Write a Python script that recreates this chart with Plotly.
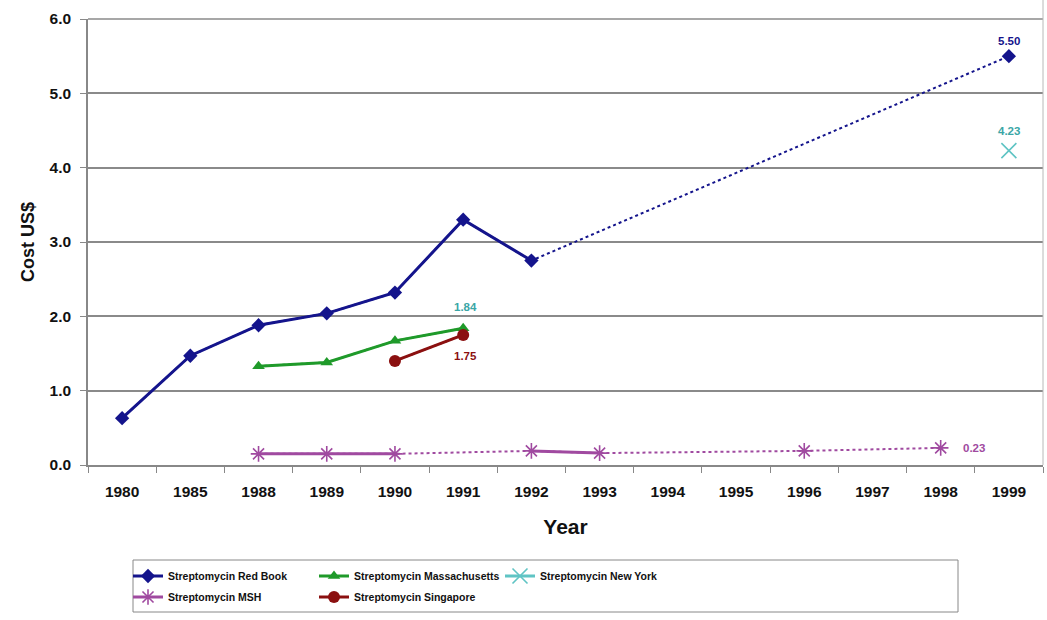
import plotly.graph_objects as go

# Category axis (years)
years = ["1980", "1985", "1988", "1989", "1990", "1991", "1992",
         "1993", "1994", "1995", "1996", "1997", "1998", "1999"]

# Cost per unit (US$); None = no observation for that year
red_book      = [0.63, 1.47, 1.88, 2.04, 2.32, 3.30, 2.75, None, None, None, None, None, None, 5.50]
massachusetts = [None, None, 1.33, 1.38, 1.67, 1.84, None, None, None, None, None, None, None, None]
new_york      = [None, None, None, None, None, None, None, None, None, None, None, None, None, 4.23]
msh           = [None, None, 0.15, 0.15, 0.15, None, 0.19, 0.16, None, None, 0.19, None, 0.23, None]
singapore     = [None, None, None, None, 1.40, 1.75, None, None, None, None, None, None, None, None]

series = [
    # name, values, colour, marker symbol, marker size, legend
    ("Streptomycin Red Book", red_book, "#14148c", "diamond", 11, "legend"),
    ("Streptomycin Massachusetts", massachusetts, "#1f9a2a", "triangle-up", 11, "legend"),
    ("Streptomycin New York", new_york, "#5fc4c4", "x-thin-open", 15, "legend"),
    ("Streptomycin MSH", msh, "#a04aa0", "asterisk-open", 13, "legend2"),
    ("Streptomycin Singapore", singapore, "#8b1010", "circle", 12, "legend2"),
]

FONT = "Liberation Sans, Arial, sans-serif"

fig = go.Figure()

for name, vals, col, sym, msize, lg in series:
    # dotted connector across years with no data
    fig.add_trace(go.Scatter(
        x=years, y=vals, mode="lines", connectgaps=True,
        line=dict(color=col, width=2, dash="dot"),
        showlegend=False, hoverinfo="skip", legendgroup=name))
    # solid line between consecutive observations, with markers
    mw = 1.6 if sym.endswith("open") else 0
    fig.add_trace(go.Scatter(
        x=years, y=vals, mode="lines+markers", connectgaps=False, name=name,
        line=dict(color=col, width=3),
        marker=dict(symbol=sym, size=msize, color=col, line=dict(color=col, width=mw)),
        legend=lg, legendgroup=name))

# value labels on the last point of each series
def last_point(vals):
    i = max(k for k, v in enumerate(vals) if v is not None)
    return i, vals[i]

labels = [
    (red_book, "#14148c", 0, 15),
    (new_york, "#3aa6a6", 0, 20),
    (massachusetts, "#3aa6a6", 2, 21),
    (singapore, "#8b1010", 2, -21),
    (msh, "#a04aa0", 33, 0),
]
for vals, col, dx, dy in labels:
    i, y = last_point(vals)
    fig.add_annotation(x=i, y=y, text=f"{y:.2f}", showarrow=False,
                       xshift=dx, yshift=dy,
                       font=dict(family=FONT, size=11.5, color=col, weight="bold"))

# top edge of the plot area and outer border on the right
fig.add_shape(type="line", xref="paper", yref="paper", x0=0, x1=1, y0=1, y1=1,
              line=dict(color="#8a8a8a", width=1.5))
fig.add_shape(type="line", xref="paper", yref="paper", x0=1, x1=1, y0=0, y1=1.045,
              line=dict(color="#b8b8b8", width=1))
# frame around the legend
fig.add_shape(type="rect", xref="paper", yref="paper",
              x0=(133 - 88) / 955, x1=(958 - 88) / 955,
              y0=-(612 - 465) / 446, y1=-(560 - 465) / 446,
              line=dict(color="#888888", width=1), fillcolor="white", layer="below")

legend_style = dict(orientation="h", xanchor="left", yanchor="middle",
                    bgcolor="rgba(0,0,0,0)", borderwidth=0,
                    font=dict(family=FONT, size=10.5, color="#111", weight="bold"),
                    itemwidth=30, entrywidth=141, tracegroupgap=0)

fig.update_layout(
    width=1047, height=620,
    margin=dict(l=88, r=4, t=19, b=155),
    paper_bgcolor="white", plot_bgcolor="white",
    font=dict(family=FONT, color="#111"),
    showlegend=True,
    legend=dict(x=(128 - 88) / 955, y=-(576 - 465) / 446, **legend_style),
    legend2=dict(x=(128 - 88) / 955, y=-(597 - 465) / 446, **legend_style),
    xaxis=dict(
        type="category", categoryorder="array", categoryarray=years,
        range=[-0.5, len(years) - 0.5], autorange=False,
        tickson="boundaries", ticks="outside", ticklen=6, tickcolor="#888",
        tickangle=0, ticklabelstandoff=12,
        showline=True, linecolor="#888", linewidth=1.5, showgrid=False,
        tickfont=dict(family=FONT, size=15.5, color="#111", weight="bold"),
        title=dict(text="Year", standoff=20,
                   font=dict(family=FONT, size=21, color="#111", weight="bold")),
    ),
    yaxis=dict(
        range=[0, 6], dtick=1, tickformat=".1f",
        ticks="outside", ticklen=6, tickcolor="#888", ticklabelstandoff=6,
        showline=True, linecolor="#888", linewidth=1.5,
        showgrid=True, gridcolor="#8a8a8a", gridwidth=1.5, zeroline=False,
        tickfont=dict(family=FONT, size=15.5, color="#111", weight="bold"),
        title=dict(text="Cost US$", standoff=10,
                   font=dict(family=FONT, size=18, color="#111", weight="bold")),
    ),
)

fig.write_html("out.html")
